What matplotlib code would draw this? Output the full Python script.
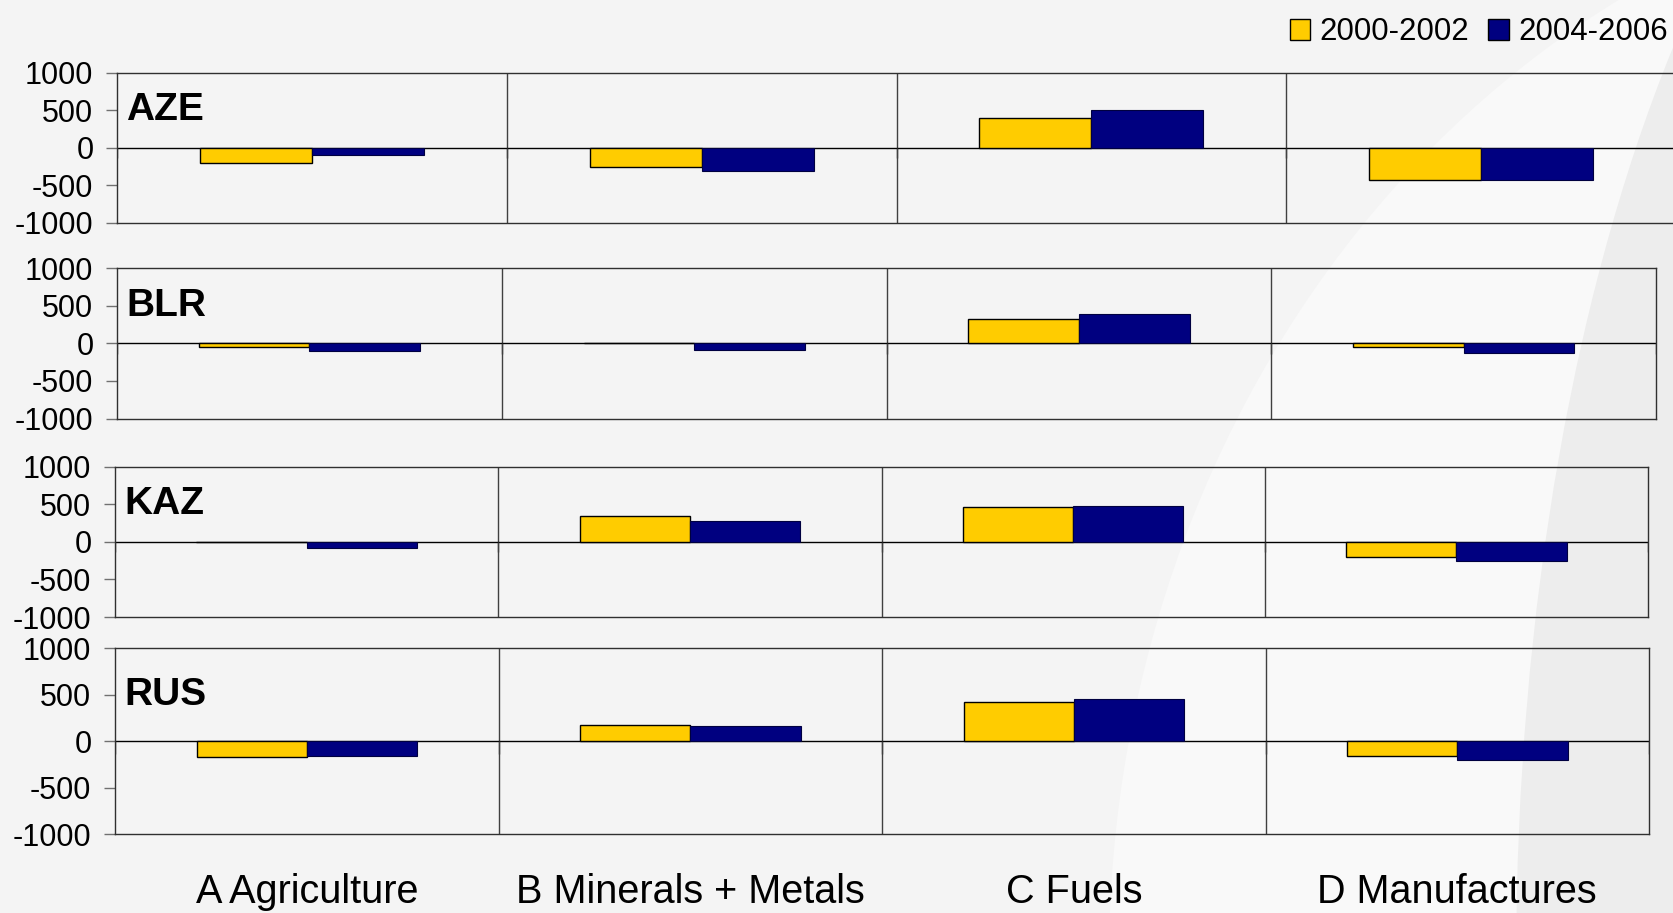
import numpy as np
import matplotlib.pyplot as plt
from matplotlib.patches import Ellipse, Patch

plt.rcParams['font.family'] = ['Liberation Sans', 'DejaVu Sans']
plt.rcParams['axes.unicode_minus'] = False

# === Data (trade balance by product group) ===
categories = ['A Agriculture', 'B Minerals + Metals', 'C Fuels', 'D Manufactures']
countries = ['AZE', 'BLR', 'KAZ', 'RUS']
periods = ['2000-2002', '2004-2006']

aze_2000 = [-200, -255, 395, -435]
aze_2004 = [-100, -310, 505, -435]
blr_2000 = [-55, 0, 325, -55]
blr_2004 = [-100, -85, 395, -125]
kaz_2000 = [0, 345, 460, -205]
kaz_2004 = [-85, 280, 475, -255]
rus_2000 = [-170, 170, 425, -165]
rus_2004 = [-165, 160, 450, -205]

yticks = [-1000, -500, 0, 500, 1000]

series_a = [aze_2000, blr_2000, kaz_2000, rus_2000]
series_b = [aze_2004, blr_2004, kaz_2004, rus_2004]

# === Layout of the four panels (figure fractions) ===
panel_pos = [
    [0.0699, 0.7558, 0.9313, 0.1647],
    [0.0699, 0.5416, 0.9194, 0.1648],
    [0.0687, 0.3242, 0.9158, 0.1648],
    [0.0687, 0.0865, 0.9164, 0.2037],
]

yellow = '#FFCC00'
navy = '#000080'

fig = plt.figure(figsize=(16.74, 9.13), dpi=100)
fig.patch.set_facecolor('#f4f4f4')

# background swoosh
fig.add_artist(Ellipse((1.2437, -0.0526), 1.1625, 2.394, transform=fig.transFigure,
                       facecolor='#f9f9f9', edgecolor='none', zorder=-10))
fig.add_artist(Ellipse((1.2437, -0.0526), 0.676, 2.896, transform=fig.transFigure,
                       facecolor='#ededed', edgecolor='none', zorder=-9))

x = np.arange(len(categories))
w = 0.2875

for i, name in enumerate(countries):
    ax = fig.add_axes(panel_pos[i])
    ax.set_facecolor('none')
    ax.bar(x - w / 2, series_a[i], width=w, color=yellow, edgecolor='black', linewidth=1, zorder=3)
    ax.bar(x + w / 2, series_b[i], width=w, color=navy, edgecolor='#000040', linewidth=0.8, zorder=3)

    ax.set_xlim(-0.5, len(categories) - 0.5)
    ax.set_ylim(-1000, 1000)
    ax.axhline(0, color='black', linewidth=1, zorder=2)
    for b in np.arange(0.5, len(categories) - 0.5, 1):
        ax.axvline(b, color='#404040', linewidth=1, zorder=1)
    ax.vlines(np.arange(-0.5, len(categories), 1), -140, 0, color='#404040', linewidth=1, zorder=2)

    for s in ax.spines.values():
        s.set_color('#303030')
        s.set_linewidth(1)

    ax.set_yticks(yticks)
    ax.tick_params(axis='y', direction='out', length=8, width=1, color='#707070',
                   labelsize=22, pad=9)
    if i == len(countries) - 1:
        ax.set_xticks(x)
        ax.set_xticklabels(categories, fontsize=28.5)
        ax.tick_params(axis='x', length=0, pad=28)
    else:
        ax.set_xticks([])

    ax.text(0.006, 500, name, transform=ax.get_yaxis_transform(), fontsize=28,
            fontweight='bold', va='center', ha='left')

handles = [Patch(facecolor=yellow, edgecolor='black', linewidth=1),
           Patch(facecolor=navy, edgecolor='black', linewidth=1)]
fig.legend(handles, periods, loc='upper right', bbox_to_anchor=(1.013, 1.012), ncol=2,
           frameon=False, fontsize=22.5, handlelength=0.65, handleheight=0.65,
           handletextpad=0.3, columnspacing=0.6)

fig.savefig('out.png', dpi=100, facecolor=fig.get_facecolor())
